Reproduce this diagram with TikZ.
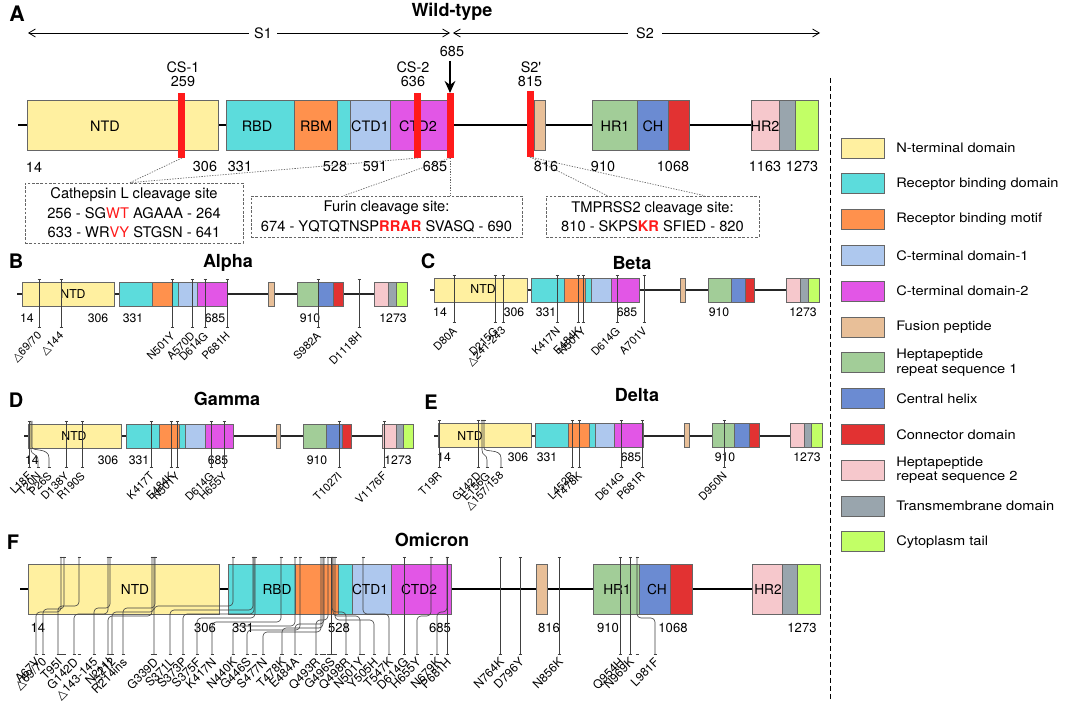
\documentclass[tikz,border=0pt]{standalone}
\usepackage{fontspec}
\setmainfont{TeX Gyre Heros}
\newfontfamily\dvfont{DejaVu Sans}
\newfontfamily\legfont[FakeStretch=1.12]{TeX Gyre Heros}
\usetikzlibrary{arrows.meta}
\newcommand\tri{{\dvfont △}}
\definecolor{cntd}{HTML}{FFF0A0}
\definecolor{crbd}{HTML}{5CDCDC}
\definecolor{crbm}{HTML}{FF914D}
\definecolor{cctd1}{HTML}{AEC8EE}
\definecolor{cctd2}{HTML}{E256E6}
\definecolor{cfp}{HTML}{E8BF98}
\definecolor{chr1}{HTML}{A2CD98}
\definecolor{cch}{HTML}{6B8BD2}
\definecolor{ccd}{HTML}{E23232}
\definecolor{chr2}{HTML}{F6C8CC}
\definecolor{ctm}{HTML}{99A5AD}
\definecolor{cct}{HTML}{C2FF66}
\definecolor{cred}{HTML}{FF1A1A}
\newcommand\mline[3]{%
  \draw[mut] (#1,#2) -- (#1,#3);
  \draw[mut] ({#1-1.5},#2) -- ({#1+1.5},#2);
  \draw[mut] ({#1-1.5},#3) -- ({#1+1.5},#3);}
\newcommand\mticks[3]{%
  \draw[mut] ({#1-1.5},#3) -- ({#1+1.5},#3);
  \draw[mut] ({#2-1.5},#3) -- ({#2+1.5},#3);}
\begin{document}
\begin{tikzpicture}[x=0.75pt,y=-0.75pt,
  dom/.style={draw=black!60, line width=0.5pt},
  lblA/.style={font=\fontsize{10.8pt}{12pt}\selectfont, inner sep=0pt},
  numS/.style={font=\fontsize{9.2pt}{10pt}\selectfont, inner sep=0pt},
  numF/.style={font=\fontsize{9.8pt}{12pt}\selectfont, inner sep=0pt},
  lettr/.style={font=\fontsize{15pt}{17pt}\selectfont\bfseries, inner sep=0pt},
  ttl/.style={font=\fontsize{13.5pt}{15pt}\selectfont\bfseries, inner sep=0pt},
  mut/.style={draw=black!75, line width=0.45pt},
  mlab/.style={font=\fontsize{8.3pt}{10pt}\selectfont, rotate=45, anchor=east, inner sep=0pt},
  mlabF/.style={font=\fontsize{9pt}{10pt}\selectfont, rotate=45, anchor=east, inner sep=0pt},
  arr/.style={-{Straight Barb[length=5pt,width=6pt]}, line width=0.6pt},
  cbox/.style={draw=black!60, dash pattern=on 2pt off 1.2pt, line width=0.5pt, align=center,
     font=\fontsize{11pt}{14.6pt}\selectfont, inner sep=0pt},
  dotc/.style={draw=black!60, dash pattern=on 1pt off 1pt, line width=0.5pt},
  legt/.style={font=\legfont\fontsize{9.8pt}{11pt}\selectfont, anchor=west, align=left, inner sep=0pt},
  bb/.style={line width=0.8pt, draw=black!85}
]
\fill[white] (0,0) rectangle (1065,705);
\useasboundingbox (0,0) rectangle (1065,705);

%================ Panel A =================
\node[lettr, font=\fontsize{16pt}{18pt}\selectfont\bfseries] (lA) at (17,14) {A};
\node[ttl] (tA) at (452,12) {Wild-type};
\coordinate (s1l) at (28,33); \coordinate (s1r) at (450,33);
\coordinate (s2l) at (453,33); \coordinate (s2r) at (820,33);
\node[lblA, inner xsep=4pt] (s1) at (263,33) {S1};
\node[lblA, inner xsep=6pt] (s2) at (645,33) {S2};
\draw[arr] (s1) -- (s1l); \draw[arr] (s1) -- (s1r);
\draw[arr] (s2) -- (s2l); \draw[arr] (s2) -- (s2r);

\draw[line width=2.2pt] (18,125) -- (818,125);
\foreach \c/\a/\b in {cntd/27/218, crbd/226/294, crbm/294/337, crbd/337/350, cctd1/350/390,
   cctd2/390/449, cfp/534/545, chr1/592/637, cch/637/668, ccd/668/689, chr2/751/779,
   ctm/779/795, cct/795/818}
  \draw[dom,fill=\c] (\a,100) rectangle (\b,150);
\foreach \x/\t in {105/NTD, 257/RBD, 316/RBM, 370/CTD1, 418/CTD2, 615/HR1, 653/CH, 765/HR2}
  \node[lblA] at (\x,126) {\t};

\fill[cred] (178,93) rectangle (185,158);
\fill[cred] (414,93) rectangle (421,158);
\fill[cred] (447,93) rectangle (454,158);
\fill[cred] (527,91) rectangle (534,157);

\node[lblA] (cs1) at (183,67) {CS-1};
\node[lblA] (cs1n) at (183,82) {259};
\node[lblA] (cs2) at (413,67) {CS-2};
\node[lblA] (cs2n) at (413,82) {636};
\node[lblA] (s2p) at (531,67) {S2\textquotesingle};
\node[lblA] (s2pn) at (530,82) {815};
\node[lblA] (n685) at (452,52) {685};
\coordinate (a685) at (450,93);
\draw[-{Stealth[length=9pt,width=8pt]}, line width=1.6pt] (450,61) -- (a685);

\foreach \x/\t in {34/14, 205/306, 240/331, 335/528, 375/591, 435/685, 546/816, 603/910, 673/1068, 765/1163, 802/1273}
  \node[lblA] at (\x,167) {\t};

\node[cbox, minimum width=163.5pt, minimum height=45pt] (cath) at (134,213)
  {Cathepsin L cleavage site\\256 - SG\textcolor{cred}{WT} AGAAA - 264\\633 - WR\textcolor{cred}{VY} STGSN - 641};
\node[cbox, minimum width=203.25pt, minimum height=30.75pt] (furin) at (386.5,216.5)
  {Furin cleavage site:\\674 - YQTQTNSP\textcolor{cred}{\textbf{RRAR}} SVASQ - 690};
\node[cbox, minimum width=159.75pt, minimum height=30.75pt] (tmp) at (652.5,216.5)
  {TMPRSS2 cleavage site:\\810 - SKPS\textcolor{cred}{\textbf{KR}} SFIED - 820};
\coordinate (cs1b) at (182,158);
\coordinate (cs2b) at (418,158);
\coordinate (f685b) at (450,158);
\coordinate (s2pb) at (530,157);
\draw[dotc] (cs1b) -- ([xshift=-3pt]cath.north);
\draw[dotc] (cs2b) -- ([xshift=-3pt]cath.north);
\draw[dotc] (f685b) -- ([xshift=-32pt]furin.north);
\draw[dotc] (f685b) -- (f685b |- furin.north);
\draw[dotc] (s2pb) -- ([xshift=-34pt]tmp.north);
\draw[dotc] (s2pb) -- ([xshift=39pt]tmp.north);

%================ Separator & Legend =================
\coordinate (sep1) at (830,78); \coordinate (sep2) at (830,700);
\draw[dash pattern=on 4pt off 2pt, line width=0.6pt] (sep1) -- (sep2);
\foreach \c/\t [count=\i from 0] in {cntd/N-terminal domain, crbd/Receptor binding domain,
   crbm/Receptor binding motif, cctd1/C-terminal domain-1, cctd2/C-terminal domain-2,
   cfp/Fusion peptide, chr1/{Heptapeptide\\repeat sequence 1}, cch/Central helix,
   ccd/Connector domain, chr2/{Heptapeptide\\repeat sequence 2}, ctm/Transmembrane domain,
   cct/Cytoplasm tail}{
  \pgfmathsetmacro\yc{148+35.8*\i}
  \draw[draw=black!60, line width=0.7pt, fill=\c] (841,\yc-10) rectangle (884,\yc+10);
  \node[legt] (leg\i) at (896,\yc) {\t};
}

%================ Panel B : Alpha =================
\node[lettr] (lB) at (16,261) {B};
\node[ttl] (tB) at (228,263) {Alpha};
\draw[bb] (17,294) -- (374,294);
\foreach \c/\a/\b in {cntd/22/114, crbd/119/152, crbm/152/172, crbd/172/178, cctd1/178/197,
   cctd2/197/227, cfp/268/274, chr1/297/318, cch/318/333, ccd/333/343, chr2/374/388,
   ctm/388/396, cct/396/407}
  \draw[dom,fill=\c] (\a,282) rectangle (\b,306);
\node[numS] at (73,294) {NTD};
\foreach \x/\t in {27/14, 98/306, 133/331, 215/685, 310/910, 393/1273}
  \node[numS] at (\x,318) {\t};
\foreach \x/\t in {39/{\tri69/70}, 61/{\tri144}, 172/N501Y, 192/A570D, 205/D614G, 227/P681H,
   318/S982A, 359/D1118H}{
  \mline{\x}{279}{327}
  \node[mlab] at ({\x+1},334) {\t};
}

%================ Panel C : Beta =================
\node[lettr] (lC) at (428,261) {C};
\node[ttl] (tC) at (632,263) {Beta};
\draw[bb] (430,290) -- (786,290);
\foreach \c/\a/\b in {cntd/434/527, crbd/531/564, crbm/564/585, crbd/585/591, cctd1/591/611,
   cctd2/611/639, cfp/680/685, chr1/708/731, cch/731/745, ccd/745/754, chr2/786/800,
   ctm/800/808, cct/808/819}
  \draw[dom,fill=\c] (\a,278) rectangle (\b,302);
\node[numS] at (483,289) {NTD};
\foreach \x/\t in {440/14, 514/306, 546/331, 627/685, 719/910, 803/1273}
  \node[numS] at (\x,312) {\t};
\foreach \x/\t in {454/D80A, 495/D215G, 503/{\tri241-243}, 557/K417N, 578/E484K, 583/N501Y,
   617/D614G, 644/A701V}{
  \mline{\x}{275}{322}
  \node[mlab] at ({\x+1},329) {\t};
}

%================ Panel D : Gamma =================
\node[lettr] (lD) at (16,400) {D};
\node[ttl] (tD) at (227,399) {Gamma};
\draw[bb] (24,436) -- (382,436);
\foreach \c/\a/\b in {cntd/28/121, crbd/126/159, crbm/159/179, crbd/179/185, cctd1/185/205,
   cctd2/205/233, cfp/276/280, chr1/303/326, cch/326/342, ccd/342/351, chr2/382/396,
   ctm/396/403, cct/403/413}
  \draw[dom,fill=\c] (\a,424) rectangle (\b,448);
\node[numS] at (74,436) {NTD};
\foreach \x/\t in {32/14, 108/306, 139/331, 218/685, 317/910, 398/1273}
  \node[numS] at (\x,460) {\t};
\foreach \x in {29, 66, 82, 151, 171, 177, 211, 224, 339, 384}{
  \mline{\x}{421}{467}
}
\draw[mut] (31,421) -- (31,449) .. controls (31,456) and (38,453) .. (38,460) -- (38,467);
\draw[mut] (32,421) -- (32,447) .. controls (32,452) and (49,447) .. (49,458) -- (49,467);
\mticks{38}{49}{467}
\foreach \x/\t in {29/L18F, 38/T20N, 49/P26S, 66/D138Y, 82/R190S, 151/K417T, 171/E484K, 177/N501Y,
   211/D614G, 224/H655Y, 339/T1027I, 384/V1176F}
  \node[mlab] at ({\x+1},474) {\t};

%================ Panel E : Delta =================
\node[lettr] (lE) at (431,402) {E};
\node[ttl] (tE) at (637,395) {Delta};
\draw[bb] (434,436) -- (790,436);
\foreach \c/\a/\b in {cntd/438/531, crbd/535/568, crbm/568/589, crbd/589/595, cctd1/595/614,
   cctd2/614/643, cfp/684/689, chr1/712/734, cch/734/749, ccd/749/759, chr2/790/804,
   ctm/804/811, cct/811/822}
  \draw[dom,fill=\c] (\a,423) rectangle (\b,447);
\node[numS] at (470,436) {NTD};
\foreach \x/\t in {444/14, 518/306, 547/331, 631/685, 725/910, 807/1273}
  \node[numS] at (\x,457) {\t};
\foreach \x in {439, 478, 572, 579, 621, 642, 724}{
  \mline{\x}{420}{467}
}
\draw[mut] (482,420) -- (482,450) .. controls (482,456) and (487,454) .. (487,460) -- (487,467);
\draw[mut] (484,420) -- (484,448) .. controls (484,453) and (501,448) .. (501,458) -- (501,467);
\mticks{487}{501}{467}
\draw[mut] (480.5,420) -- (485.5,420);
\foreach \x/\t in {439/T19R, 478/G142D, 487/E156G, 501/{\tri157/158}, 572/L452R, 579/T478K,
   621/D614G, 642/P681R, 724/D950N}
  \node[mlab] at ({\x+1},474) {\t};

%================ Panel F : Omicron =================
\node[lettr] (lF) at (13,542) {F};
\node[ttl] (tF) at (432,540) {Omicron};
\draw[line width=2.2pt] (20,589) -- (752,589);
\foreach \c/\a/\b in {cntd/28/219, crbd/228/295, crbm/295/338, crbd/338/352, cctd1/352/391,
   cctd2/391/451, cfp/536/547, chr1/593/639, cch/639/670, ccd/670/692, chr2/752/782,
   ctm/782/797, cct/797/820}
  \draw[dom,fill=\c] (\a,564) rectangle (\b,614);
\foreach \x/\t in {135/NTD, 277/RBD, 370/CTD1, 419/CTD2, 617/HR1, 657/CH, 768/HR2}
  \node[lblA, font=\fontsize{10.3pt}{12pt}\selectfont] at (\x,589) {\t};
\foreach \x/\t in {38/14, 205/306, 243/331, 339/528, 440/685, 549/816, 608/910, 673/1068, 802/1273}
  \node[numF] at (\x,628) {\t};
% bent leaders
\foreach \xt/\xb/\ym in {61/36/612, 64/43/609, 79/58/606, 108/74/614, 110/94/608, 152/108/616,
   154/112/612, 155/123/608, 233/154/606, 253/170/610, 254/183/614, 255/197/618, 281/212/622,
   295/233/626, 300/247/630, 321/263/632, 323/282/628, 324/295/624, 328/316/620,
   332/346/612, 333/360/616, 335/374/620, 363/389/614, 431/417/616, 447/437/612, 637/655/618}{
  \draw[mut, rounded corners=3pt] (\xt,557) -- (\xt,\ym) -- (\xb,\ym) -- (\xb,654);
  \mticks{\xt}{\xb}{654}
  \draw[mut] ({\xt-1.5},557) -- ({\xt+1.5},557);
}
% straight leaders
\foreach \x in {331, 404, 447, 500, 520, 559, 620, 630}{
  \mline{\x}{557}{654}
}
\foreach \x/\t in {36/A67V, 43/{\tri69/70}, 58/T95I, 74/G142D, 94/{\tri143-145}, 108/N211I,
   112/{\tri212}, 123/R214ins, 154/G339D, 170/S371L, 183/S373P, 197/S375F, 212/K417N,
   233/N440K, 247/G446S, 263/S477N, 282/T478K, 295/E484A, 316/Q493R, 331/G496S,
   346/Q498R, 360/N501Y, 374/Y505H, 389/T547K, 404/D614G, 417/H655Y, 437/N679K,
   447/P681H, 500/N764K, 520/D796Y, 559/N856K, 620/Q954H, 630/N969K, 655/L981F}
  \node[mlabF] at ({\x+2},660) {\t};
\end{tikzpicture}
\end{document}
